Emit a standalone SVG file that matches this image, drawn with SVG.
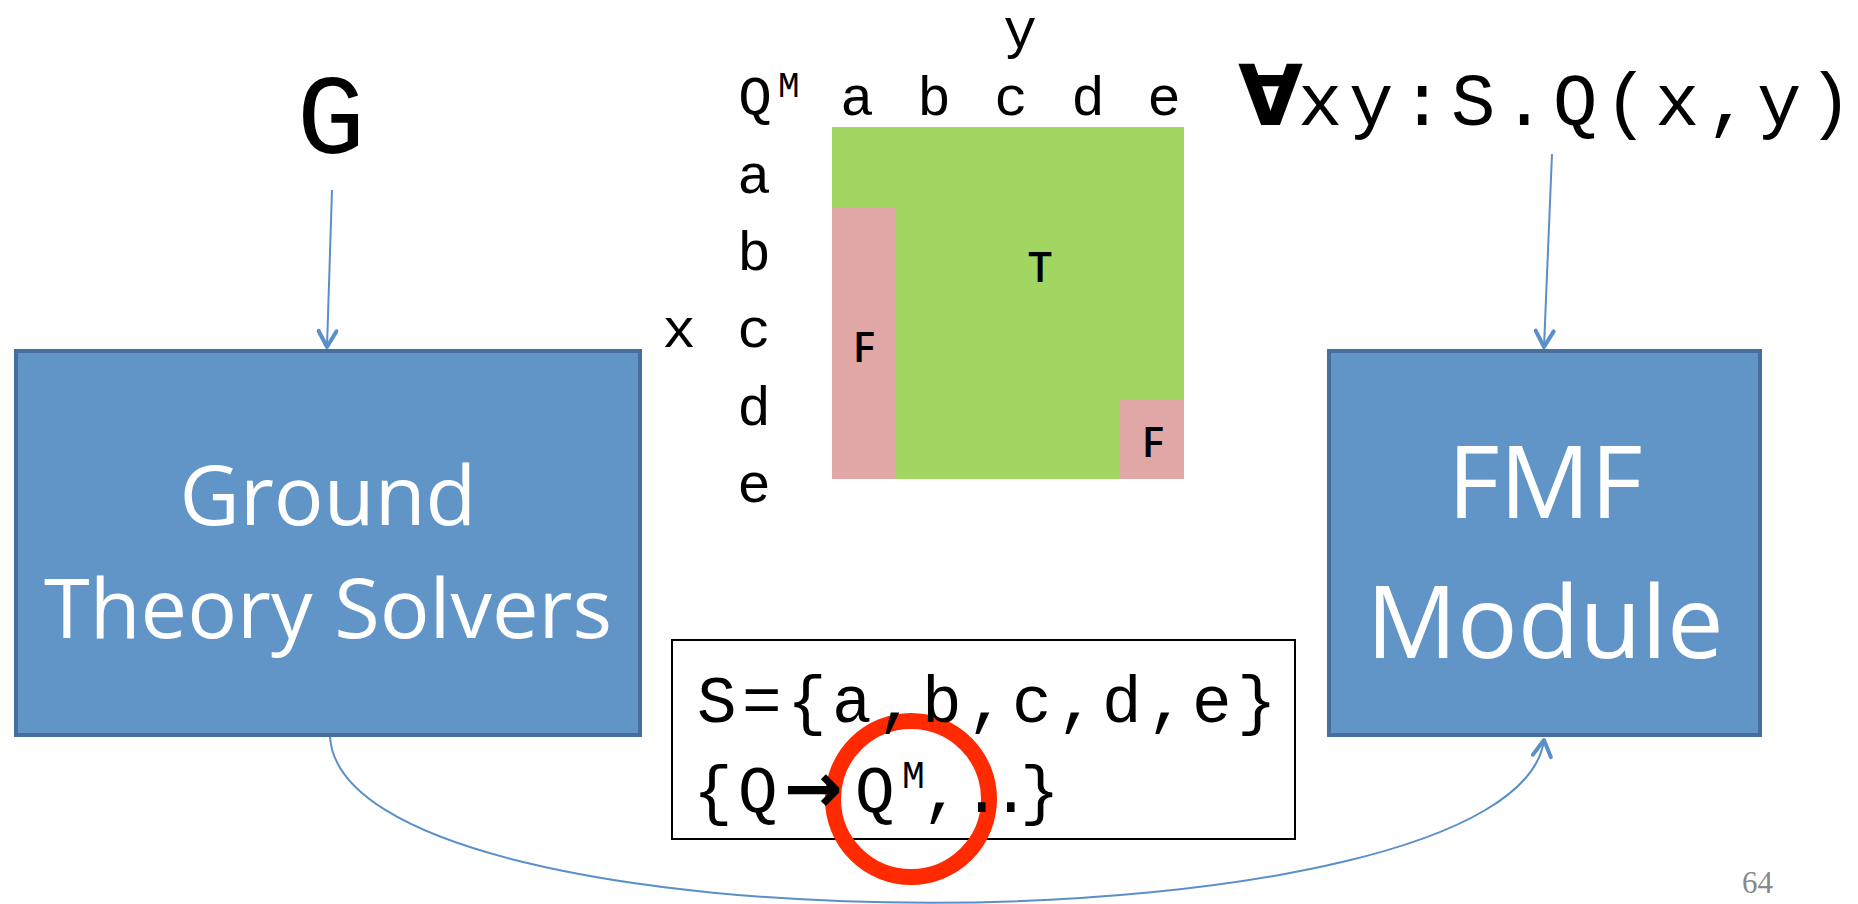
<svg xmlns="http://www.w3.org/2000/svg" width="1858" height="904" viewBox="0 0 1858 904">
<style>
.mono{font-family:"Liberation Mono","DejaVu Sans Mono",monospace;fill:#000}
.lbl{font-family:"Liberation Mono","DejaVu Sans Mono",monospace;fill:#000;font-size:56px;text-anchor:middle}
.box{fill:#6195C7;stroke:#45709E;stroke-width:4}
.boxtxt{font-family:"Open Sans","Noto Sans",sans-serif;fill:#fff;text-anchor:middle}
.cell{font-family:"Open Sans","Noto Sans",sans-serif;font-size:42px;font-weight:600;fill:#000;text-anchor:middle}
.conn{fill:none;stroke:#5B8FC9;stroke-width:2}
</style>
<defs>
<marker id="ah" viewBox="0 0 22 22" refX="19" refY="11" markerWidth="22" markerHeight="22" markerUnits="userSpaceOnUse" orient="auto">
<path d="M3,2 L19,11 L3,20" fill="none" stroke="#5B8FC9" stroke-width="4" stroke-linecap="round" stroke-linejoin="round"/>
</marker>
</defs>
<rect width="1858" height="904" fill="#fff"/>

<g id="label-G">
<text class="mono" x="331" y="153" font-size="114" text-anchor="middle">G</text>
</g>

<g id="formula">
<text x="1238" y="125" font-family="DejaVu Sans,sans-serif" font-weight="bold" font-size="84">∀</text>
<text class="mono" x="1298" y="125" font-size="74" letter-spacing="6.6">xy:S.Q(x,y)</text>
</g>

<g id="matrix">
<rect x="832" y="127" width="352" height="352" fill="#A1D662"/>
<rect x="832" y="207" width="64" height="272" fill="#E1A6A6"/>
<rect x="1120" y="399" width="64" height="80" fill="#E1A6A6"/>
<text class="cell" x="1040" y="282">T</text>
<text class="cell" x="864" y="362">F</text>
<text class="cell" x="1153" y="457">F</text>
<text class="lbl" x="1020" y="47">y</text>
<text class="lbl" x="755" y="115">Q</text>
<text class="mono" x="778" y="97" font-size="36">M</text>
<text class="lbl" x="857 934 1011 1088 1164" y="115">abcde</text>
<text class="lbl" x="754" y="193">a</text>
<text class="lbl" x="754" y="270">b</text>
<text class="lbl" x="754" y="347">c</text>
<text class="lbl" x="754" y="425">d</text>
<text class="lbl" x="754" y="502">e</text>
<text class="lbl" x="679" y="347">x</text>
</g>

<g id="ground-solvers">
<rect class="box" x="16" y="351" width="624" height="384"/>
<text class="boxtxt" x="328" y="525" font-size="83">Ground</text>
<text class="boxtxt" x="328" y="638" font-size="83">Theory Solvers</text>
</g>

<g id="fmf-module">
<rect class="box" x="1329" y="351" width="431" height="384"/>
<text class="boxtxt" x="1545" y="518" font-size="101">FMF</text>
<text class="boxtxt" x="1545" y="658" font-size="101">Module</text>
</g>

<g id="model-box">
<rect x="672" y="640" width="623" height="199" fill="#fff" stroke="#000" stroke-width="2"/>
</g>

<g id="highlight">
<circle cx="911" cy="799" r="78" fill="none" stroke="#FF2A00" stroke-width="16"/>
</g>

<g id="model-box-text">
<text class="mono" x="697" y="722" font-size="66" letter-spacing="5.4">S={a,b,c,d,e}</text>
<text class="mono" y="812" font-size="66"><tspan x="693" letter-spacing="5.4">{Q</tspan><tspan x="784" font-family="DejaVu Sans,sans-serif" font-weight="bold" font-size="70">→</tspan><tspan x="855">Q</tspan><tspan x="902" y="788" font-size="38">M</tspan><tspan x="922" y="812">,</tspan><tspan x="962" letter-spacing="-10.6">..</tspan><tspan x="1020">}</tspan></text>
</g>

<g id="connectors">
<path class="conn" d="M332,190 L327,347" marker-end="url(#ah)"/>
<path class="conn" d="M1552,154 L1544,347" marker-end="url(#ah)"/>
<path class="conn" d="M330,737 C345,960 1515,955 1544,740" marker-end="url(#ah)"/>
</g>

<g id="page-number">
<text x="1742" y="893" font-family="Liberation Serif,serif" font-size="31" fill="#888">64</text>
</g>
</svg>
